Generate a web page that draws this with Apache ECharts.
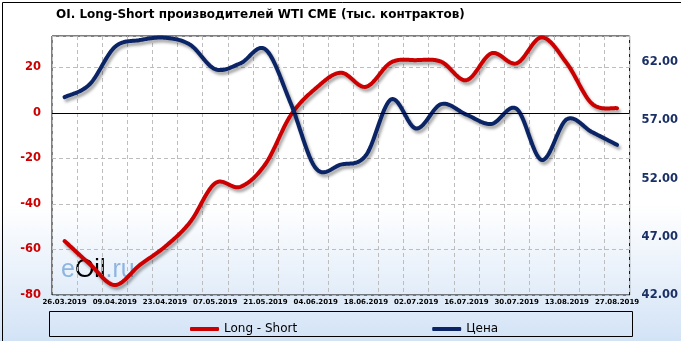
<!DOCTYPE html>
<html>
<head>
<meta charset="utf-8">
<script src="https://cdn.jsdelivr.net/npm/echarts@6/dist/echarts.min.js"></script>
<style>
html,body{margin:0;padding:0;background:#fff;}
#chart{width:681px;height:341px;}
</style>
</head>
<body>
<div id="chart"></div>
<script>
const titleText = 'OI. Long-Short производителей WTI CME (тыс. контрактов)';
const dates = ['26.03.2019','02.04.2019','09.04.2019','16.04.2019','23.04.2019','30.04.2019','07.05.2019','14.05.2019','21.05.2019','28.05.2019','04.06.2019','11.06.2019','18.06.2019','25.06.2019','02.07.2019','09.07.2019','16.07.2019','23.07.2019','30.07.2019','06.08.2019','13.08.2019','20.08.2019','27.08.2019'];
const longShort = [-56.3, -66.4, -75.6, -66.8, -58.8, -48.0, -30.9, -32.5, -22.5, -1.2, 10.7, 17.6, 11.4, 22.1, 23.1, 22.4, 14.3, 26.1, 21.7, 33.1, 21.7, 4.0, 2.0];
const price = [59.0, 60.1, 63.3, 63.9, 64.1, 63.5, 61.4, 61.9, 63.1, 58.5, 52.9, 53.2, 54.0, 58.8, 56.3, 58.4, 57.5, 56.7, 58.0, 53.6, 57.1, 56.0, 54.9];
const seriesNames = ['Long - Short', 'Цена'];
const leftMin = -80, leftMax = 33.7, leftStep = 20;
const rightMin = 42, rightMax = 64.25, rightStep = 5;

const chart = echarts.init(document.getElementById('chart'), null, {renderer:'canvas'});
const RED = '#cc0000', BLUE = '#0a2466';

// Draws a smooth (Catmull-Rom style) curve through the points, converted by the axes.
function smoothRenderer(values, color){
  return function(params, api){
    if (params.dataIndex !== 0) return null;
    const pts = values.map((v,i)=>api.coord([i, v]));
    const out = [];
    const n = pts.length, steps = 24;
    out.push(pts[0]);
    for (let i=0;i<n-1;i++){
      const p0 = pts[Math.max(i-1,0)], p1 = pts[i], p2 = pts[i+1], p3 = pts[Math.min(i+2,n-1)];
      const c1 = [p1[0]+(p2[0]-p0[0])/6, p1[1]+(p2[1]-p0[1])/6];
      const c2 = [p2[0]-(p3[0]-p1[0])/6, p2[1]-(p3[1]-p1[1])/6];
      for (let s=1;s<=steps;s++){
        const t=s/steps, u=1-t;
        out.push([
          u*u*u*p1[0]+3*u*u*t*c1[0]+3*u*t*t*c2[0]+t*t*t*p2[0],
          u*u*u*p1[1]+3*u*u*t*c1[1]+3*u*t*t*c2[1]+t*t*t*p2[1]
        ]);
      }
    }
    return {type:'polyline', shape:{points:out},
      style:{fill:null, stroke:color, lineWidth:4, lineJoin:'round', lineCap:'round',
        shadowColor:'rgba(0,0,0,0.35)', shadowBlur:3, shadowOffsetX:2, shadowOffsetY:3}};
  };
}

chart.setOption({
  animation:false,
  backgroundColor:{type:'linear',x:0,y:0,x2:0,y2:1,colorStops:[
    {offset:0,color:'#ffffff'},{offset:0.6,color:'#ffffff'},{offset:1,color:'#d3e3f6'}]},
  title:{text:titleText,left:51,top:4,textStyle:{fontFamily:'DejaVu Sans',fontWeight:'bold',fontSize:12,color:'#000'}},
  graphic:[
    {type:'rect',left:0,top:0,z:100,shape:{x:0.5,y:0.5,width:680,height:340},style:{fill:'none',stroke:'#000',lineWidth:1}},
    {type:'rect',z:100,shape:{x:49.5,y:311.5,width:583,height:25},style:{fill:'none',stroke:'#000',lineWidth:1}},
    {type:'text',left:61,top:258,z:0,style:{
      text:'{a|e}{b|Oil}{a|.ru}',
      rich:{a:{fontFamily:'Liberation Sans',fontSize:25,fill:'rgba(110,160,215,0.75)'},b:{fontFamily:'Liberation Sans',fontSize:25,fill:'#000'}}
    }}
  ],
  legend:{data:seriesNames,left:185,top:318,itemGap:135,icon:'roundRect',itemWidth:29,itemHeight:4,
    textStyle:{fontFamily:'DejaVu Sans',fontSize:12,color:'#000'}},
  grid:{left:52,right:50,top:36,bottom:46,show:true,borderColor:'#000',borderWidth:1,backgroundColor:'transparent'},
  xAxis:{type:'category',data:dates,boundaryGap:true,
    axisLine:{show:false},axisTick:{show:false},
    axisLabel:{interval:1,margin:4,fontFamily:'DejaVu Sans',fontWeight:'bold',fontSize:7,color:'#000'},
    splitLine:{show:true,interval:0,lineStyle:{color:'#bdbdbd',type:[4,3],width:1}}},
  yAxis:[
    {type:'value',min:leftMin,max:leftMax,interval:leftStep,position:'left',
      axisLine:{show:false},axisTick:{show:false},
      axisLabel:{margin:11,showMaxLabel:false,fontFamily:'DejaVu Sans',fontWeight:'bold',fontSize:11.5,color:RED},
      splitLine:{show:true,lineStyle:{color:'#bdbdbd',type:[4,3],width:1}}},
    {type:'value',min:rightMin,max:rightMax,interval:rightStep,position:'right',
      axisLine:{show:false},axisTick:{show:false},splitLine:{show:false},
      axisLabel:{margin:12,showMaxLabel:false,formatter:v=>v.toFixed(2),fontFamily:'DejaVu Sans',fontWeight:'bold',fontSize:11.5,color:'#1a2f66'}}
  ],
  series:[
    {type:'line',name:'zero',yAxisIndex:0,data:[],z:1,silent:true,
      markLine:{silent:true,symbol:'none',label:{show:false},lineStyle:{color:'#000',type:'solid',width:1},data:[{yAxis:0}]}},
    {type:'custom',name:seriesNames[0],yAxisIndex:0,z:3,clip:false,
      data:longShort.map((v,i)=>[i,v]),encode:{x:0,y:1},
      itemStyle:{color:RED},renderItem:smoothRenderer(longShort,RED)},
    {type:'custom',name:seriesNames[1],yAxisIndex:1,z:4,clip:false,
      data:price.map((v,i)=>[i,v]),encode:{x:0,y:1},
      itemStyle:{color:BLUE},renderItem:smoothRenderer(price,BLUE)}
  ]
});
</script>
</body>
</html>
